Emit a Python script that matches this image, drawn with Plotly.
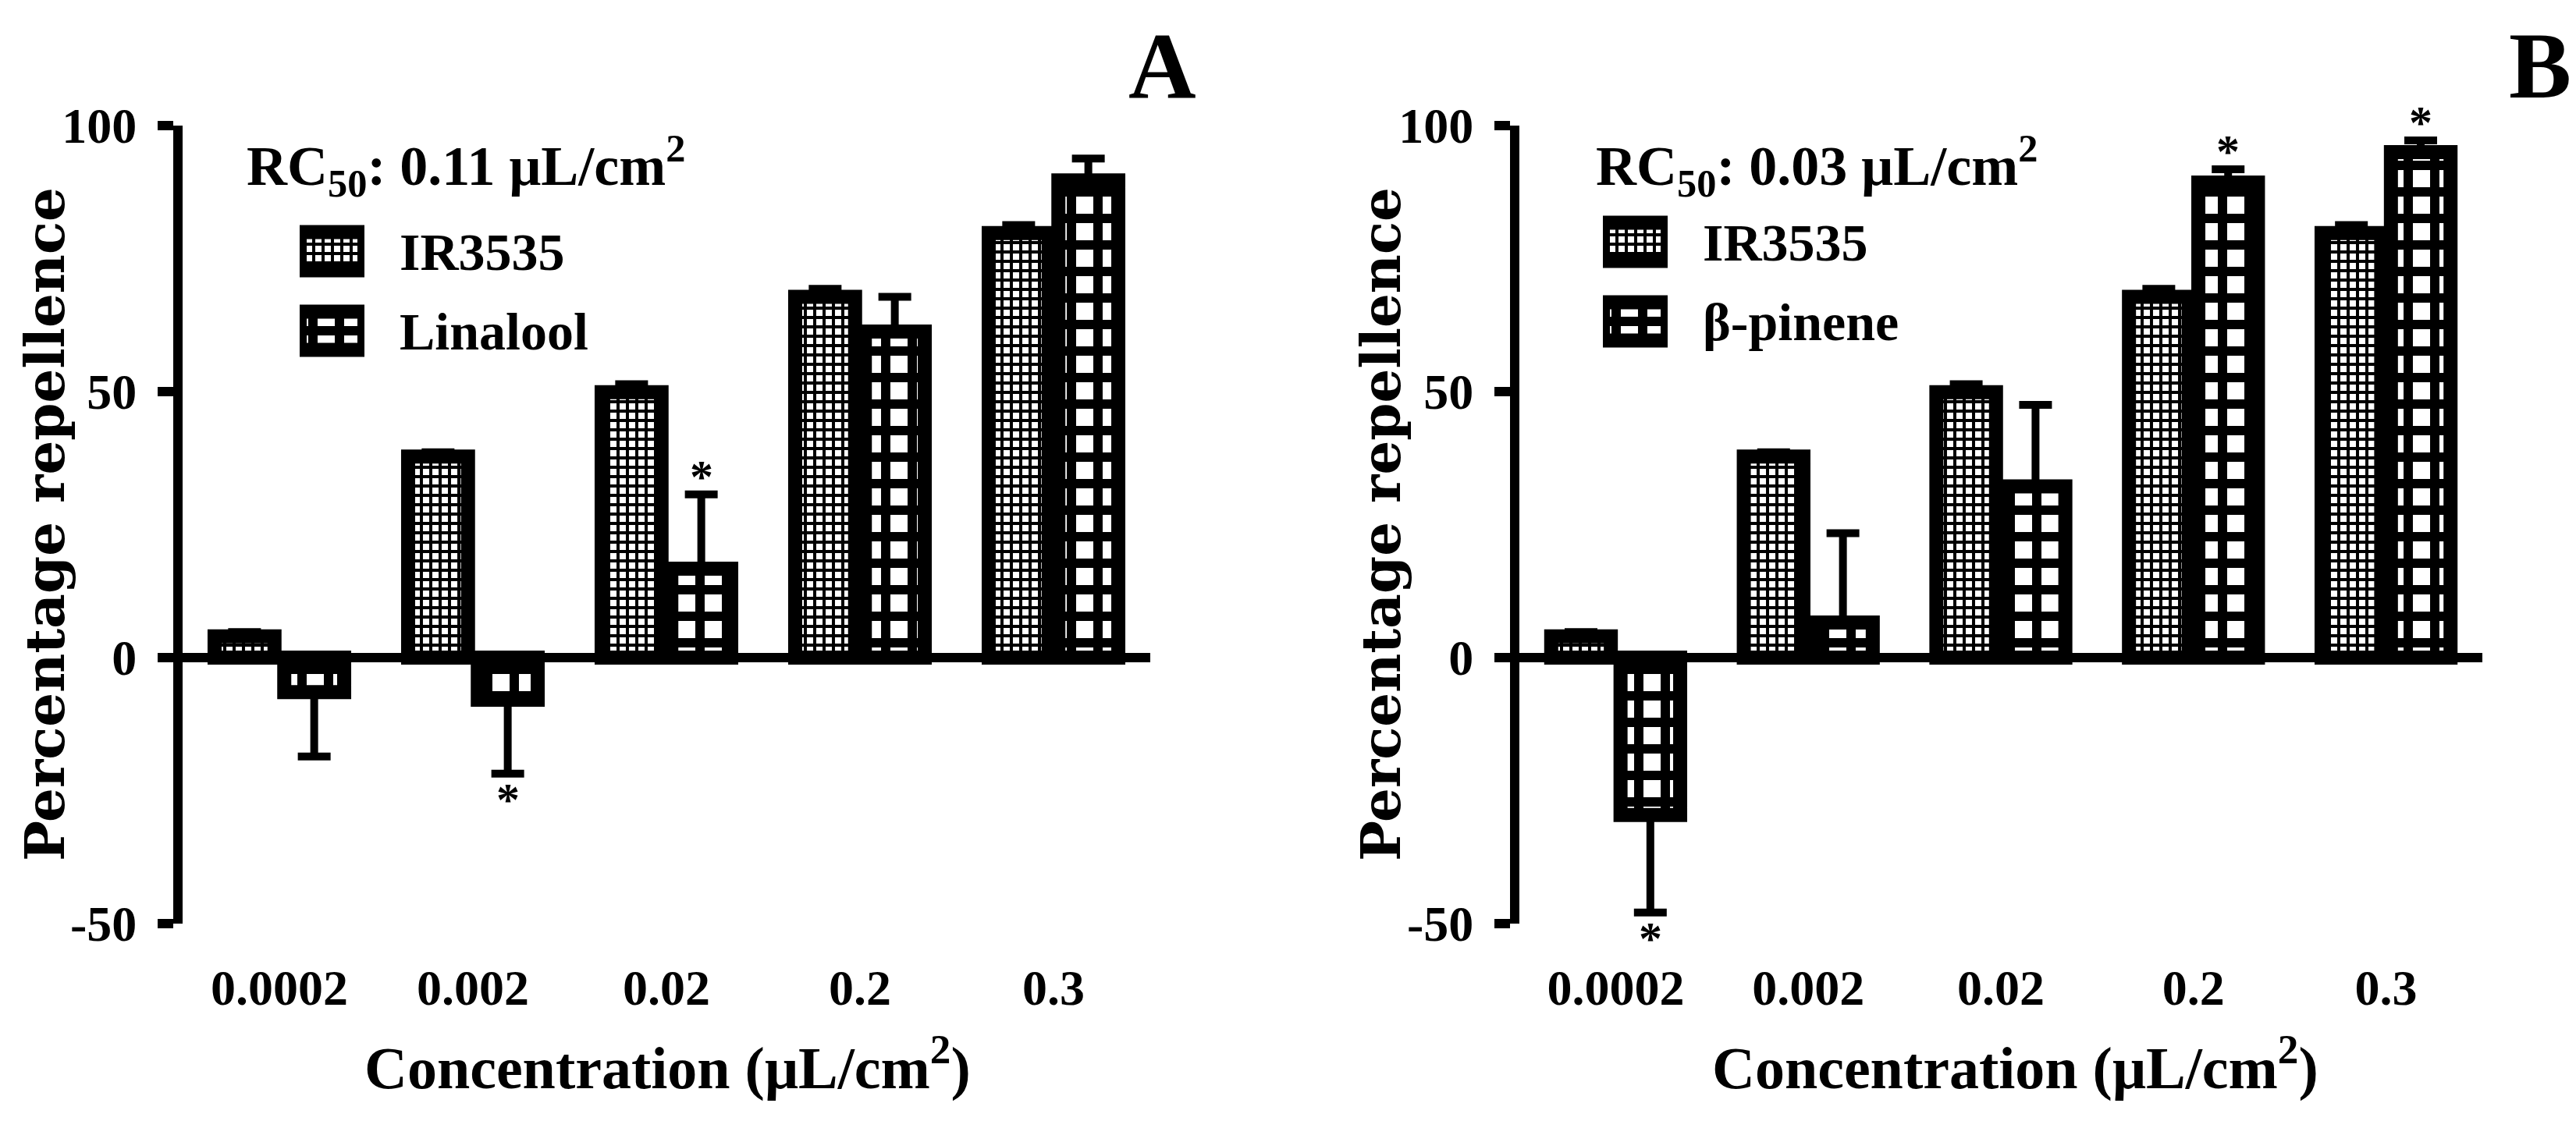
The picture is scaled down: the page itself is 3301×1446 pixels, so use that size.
import plotly.graph_objects as go

W, H = 3301, 1446

concentrations = ["0.0002", "0.002", "0.02", "0.2", "0.3"]

# IR3535 reference (same in both panels)
ir3535 = [4.0, 37.8, 49.9, 67.8, 79.8]
ir3535_err = [0.8, 0.8, 1.5, 1.5, 1.5]

# panel A
linalool = [-6.5, -7.9, 16.7, 61.3, 89.7]
linalool_err = [12.1, 13.9, 14.0, 6.5, 4.1]
linalool_sig = [False, True, True, False, False]
rc50_a = "0.11"

# panel B
bpinene = [-29.6, 6.6, 32.2, 89.3, 95.0]
bpinene_err = [18.3, 16.8, 15.3, 2.5, 2.2]
bpinene_sig = [True, False, False, True, True]
rc50_b = "0.03"

y_ticks = [-50, 0, 50, 100]
y_ticktext = ["-50", "0", "50", "100"]

SERIF = "Liberation Serif"
FINE = dict(shape="+", size=12, solidity=0.55, fgcolor="black", bgcolor="white", fillmode="replace")
COARSE = dict(shape="+", size=34, solidity=0.58, fgcolor="black", bgcolor="white", fillmode="replace")


def px_x(p):
    return p / W


def px_y(p):
    return 1 - p / H


def bar(name, vals, errs, pattern, xa, ya):
    up = [e if v >= 0 else 0 for v, e in zip(vals, errs)]
    down = [e if v < 0 else 0 for v, e in zip(vals, errs)]
    return go.Bar(x=concentrations, y=vals, name=name, xaxis=xa, yaxis=ya,
                  marker=dict(color="white", line=dict(color="black", width=18), pattern=pattern),
                  error_y=dict(type="data", symmetric=False, array=up, arrayminus=down,
                               color="black", thickness=10, width=21),
                  showlegend=False)


def swatch(names, xa, ya):
    return go.Bar(x=[1, 1], y=names, orientation="h", width=0.48, xaxis=xa, yaxis=ya,
                  marker=dict(color="white", line=dict(color="black", width=18),
                              pattern=dict(shape=[FINE["shape"], COARSE["shape"]],
                                           size=[FINE["size"], COARSE["size"]],
                                           solidity=[FINE["solidity"], COARSE["solidity"]],
                                           fgcolor="black", bgcolor="white", fillmode="replace")),
                  showlegend=False, hoverinfo="skip")


fig = go.Figure()
fig.add_trace(bar("IR3535", ir3535, ir3535_err, FINE, "x", "y"))
fig.add_trace(bar("Linalool", linalool, linalool_err, COARSE, "x", "y"))
fig.add_trace(bar("IR3535", ir3535, ir3535_err, FINE, "x2", "y2"))
fig.add_trace(bar("β-pinene", bpinene, bpinene_err, COARSE, "x2", "y2"))
fig.add_trace(swatch(["IR3535", "Linalool"], "x3", "y3"))
fig.add_trace(swatch(["IR3535", "β-pinene"], "x4", "y4"))

y_dom = [px_y(1176), px_y(153)]


def main_x(dom, anchor):
    return dict(domain=dom, anchor=anchor, type="category", range=[-0.5, 4.5],
                showline=False, ticks="", showgrid=False, zeroline=False,
                tickfont=dict(family=SERIF, size=64, color="black", weight="bold"),
                ticklabelstandoff=39, automargin=False, fixedrange=True)


def main_y(anchor):
    return dict(domain=y_dom, anchor=anchor, range=[-50, 100],
                tickmode="array", tickvals=y_ticks, ticktext=y_ticktext,
                ticks="outside", ticklen=20, tickwidth=12, tickcolor="black",
                showline=True, linewidth=12, linecolor="black", showgrid=False,
                zeroline=True, zerolinewidth=12, zerolinecolor="black",
                tickfont=dict(family=SERIF, size=64, color="black", weight="bold"),
                ticklabelstandoff=14, automargin=False, fixedrange=True)


def leg_x(dom, anchor):
    return dict(domain=dom, anchor=anchor, range=[0, 1], visible=False, fixedrange=True)


def leg_y(dom, anchor):
    return dict(domain=dom, anchor=anchor, type="category", range=[1.5, -0.5], side="right",
                showline=False, ticks="", showgrid=False, zeroline=False,
                tickfont=dict(family=SERIF, size=68, color="black", weight="bold"),
                ticklabelstandoff=44, automargin=False, fixedrange=True)


fig.update_layout(
    width=W, height=H,
    margin=dict(l=0, r=0, t=0, b=0),
    paper_bgcolor="white", plot_bgcolor="white",
    barmode="group", bargap=0.28, bargroupgap=0.14,
    showlegend=False,
    xaxis=main_x([px_x(226), px_x(1466)], "y"),
    yaxis=main_y("x"),
    xaxis2=main_x([px_x(1939), px_x(3173)], "y2"),
    yaxis2=main_y("x2"),
    xaxis3=leg_x([px_x(376), px_x(459)], "y3"),
    yaxis3=leg_y([px_y(467), px_y(263)], "x3"),
    xaxis4=leg_x([px_x(2046), px_x(2129)], "y4"),
    yaxis4=leg_y([px_y(455), px_y(251)], "x4"),
)

ann = []
# significance stars, just beyond the end of the error bar
for xr, yr, vals, errs, sig in [("x", "y", linalool, linalool_err, linalool_sig),
                                 ("x2", "y2", bpinene, bpinene_err, bpinene_sig)]:
    for i, (v, e, s) in enumerate(zip(vals, errs, sig)):
        if not s:
            continue
        up = v >= 0
        ann.append(dict(x=i + 0.18, y=v + e if up else v - e, xref=xr, yref=yr, text="*",
                        showarrow=False, xanchor="center", yanchor="middle",
                        yshift=23 if up else -33,
                        font=dict(family=SERIF, size=60, color="black", weight="bold")))


def paper_text(x, y, text, size, family=SERIF, xanchor="center", angle=0):
    return dict(x=px_x(x), y=px_y(y), xref="paper", yref="paper", text=text, showarrow=False,
                xanchor=xanchor, yanchor="middle", textangle=angle,
                font=dict(family=family, size=size, color="black", weight="bold"))


# RC50 labels
for x0, rc in [(306, rc50_a), (2035, rc50_b)]:
    ann.append(paper_text(x0, 205, f"RC<sub>50</sub>: {rc} μL/cm<sup>2</sup>", 72, xanchor="left"))

# panel letters
for x0, letter in [(1481, "A"), (3247, "B")]:
    ann.append(paper_text(x0, 76, letter, 120))

# axis titles
for xc in [50, 1762]:
    ann.append(paper_text(xc, 664, "Percentage repellence", 69, family="DejaVu Serif", angle=-90))
for xc in [848, 2574]:
    ann.append(paper_text(xc, 1356, "Concentration (μL/cm<sup>2</sup>)", 76))

fig.update_layout(annotations=ann)

fig.write_html("out.html")
